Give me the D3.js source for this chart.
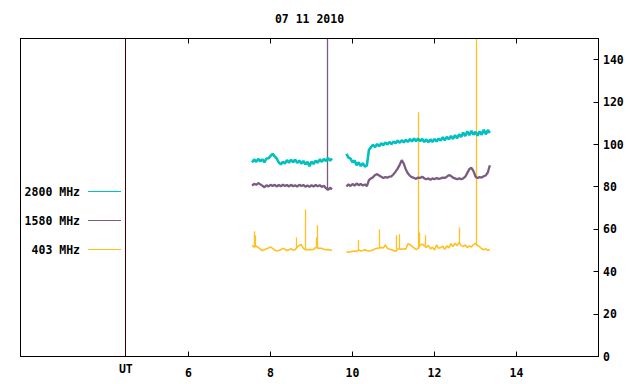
<!DOCTYPE html>
<html>
<head>
<meta charset="utf-8">
<script src="https://cdn.jsdelivr.net/npm/d3@7"></script>
<style>
	body { margin: 0; background: #fff; }
	svg text { font-family: "DejaVu Sans Mono", monospace; font-weight: bold; font-size: 11.5px; fill: #000; }
</style>
</head>
<body>
<svg id="chart" width="640" height="384"></svg>
<script>
const title = "07 11 2010";
const xTicks = [6, 8, 10, 12, 14];
const utHour = 4.47;
const yTicks = [0, 20, 40, 60, 80, 100, 120, 140];
const legendLabels = ["2800 MHz", "1580 MHz", "403 MHz"];
const colors = ["#00c0c0", "#7a5c80", "#ffc020"];
const widths = [2.6, 2.3, 1.6];

// sample grids (hours UT) of the two observing stretches
const timesA = d3.range(0, 40).map((i) => 7.55 + i * 0.05);
const timesB = d3.range(0, 71).map((i) => 9.85 + i * 0.05);

const s2800A = [91.5, 93.0, 91.8, 93.2, 92.0, 93.0, 91.6, 93.4, 93.5, 94.6,
	95.6, 94.4, 93.4, 91.6, 90.6, 91.9, 91.0, 92.6, 91.4, 92.8,
	91.6, 92.9, 91.3, 92.4, 91.0, 92.2, 90.6, 91.8, 89.8, 92.0,
	90.8, 92.4, 91.4, 93.0, 91.8, 93.2, 92.2, 93.6, 92.4, 93.4];
const s2800B = [95.6, 93.8, 93.4, 91.6, 92.4, 90.2, 91.6, 89.8, 91.2, 89.6,
	90.2, 97.4, 98.8, 99.8, 98.8, 100.2, 99.2, 100.6, 99.6, 101.0,
	100.0, 101.2, 100.2, 101.4, 100.6, 101.8, 100.8, 102.0, 101.0, 102.2,
	101.2, 102.6, 101.4, 102.8, 101.6, 102.8, 101.6, 102.6, 101.2, 102.4,
	101.0, 102.4, 101.2, 102.6, 101.4, 102.8, 101.8, 103.4, 102.0, 103.6,
	102.4, 104.0, 102.6, 104.4, 103.0, 104.8, 103.6, 105.6, 104.0, 106.2,
	104.4, 106.4, 104.6, 106.0, 104.2, 106.2, 104.6, 107.0, 104.8, 106.8, 105.4];

const s1580A = [80.6, 81.4, 81.0, 81.8, 81.2, 80.6, 79.8, 80.8, 80.2, 81.0,
	80.4, 81.0, 80.2, 80.9, 80.3, 81.1, 80.4, 80.9, 80.2, 81.0,
	80.3, 80.8, 80.1, 81.0, 80.4, 80.9, 80.1, 80.7, 80.0, 80.8,
	80.2, 80.9, 80.3, 80.8, 80.0, 80.6, 79.4, 78.6, 79.6, 78.8];
const s1580B = [80.2, 81.2, 80.4, 81.4, 80.6, 81.6, 80.8, 81.4, 80.6, 81.2,
	80.4, 83.2, 84.0, 84.6, 85.6, 86.0, 85.4, 84.8, 84.2, 84.6,
	84.4, 84.8, 85.0, 86.0, 87.2, 88.6, 90.4, 92.6, 91.0, 88.2,
	86.4, 85.2, 84.6, 84.2, 83.8, 84.4, 84.2, 84.8, 84.0, 83.6,
	84.0, 83.4, 84.0, 83.6, 84.2, 83.8, 84.0, 84.4, 84.2, 84.8,
	85.6, 85.2, 84.4, 84.0, 83.6, 84.0, 83.6, 84.0, 84.8, 86.6,
	88.4, 89.0, 87.4, 84.8, 84.2, 84.6, 84.4, 85.0, 85.4, 86.8, 90.2];

const s403A = [52.4, 51.6, 52.0, 51.4, 50.6, 49.9, 50.4, 50.8, 51.2, 51.6,
	51.0, 50.2, 49.8, 50.0, 50.4, 51.0, 50.6, 50.0, 50.4, 50.8,
	50.2, 50.4, 51.6, 52.4, 52.8, 51.0, 50.4, 50.4, 50.5, 50.4,
	50.5, 51.4, 51.2, 51.0, 51.0, 50.6, 50.4, 50.4, 50.2, 50.0];
const s403B = [49.4, 49.2, 49.4, 49.6, 49.8, 49.6, 50.2, 49.8, 50.0, 50.4,
	50.0, 49.8, 50.0, 50.2, 50.8, 51.0, 51.2, 51.4, 51.2, 52.6,
	51.0, 50.6, 50.4, 50.0, 49.6, 50.6, 50.8, 50.6, 50.8, 50.6,
	53.2, 52.8, 52.0, 51.2, 50.4, 51.0, 52.4, 53.0, 52.2, 51.4,
	52.4, 50.8, 51.6, 50.2, 52.6, 51.0, 51.4, 52.0, 50.6, 52.2,
	51.2, 53.2, 51.8, 53.4, 52.2, 53.8, 52.4, 51.8, 52.6, 51.4,
	52.2, 51.6, 52.8, 53.4, 52.4, 51.8, 50.8, 50.4, 50.8, 50.0, 50.6];

// short bursts: [hour, peak value]
const spikes1580 = [[9.38, 160]];
const spikes403 = [[7.60, 59.1], [7.63, 57.2], [8.64, 56.1], [8.86, 69.3], [9.12, 56.1],
	[9.15, 61.9], [10.15, 54.9], [10.66, 60.0], [11.08, 57.2], [11.15, 57.7],
	[11.62, 115.2], [11.64, 58.5], [11.77, 57.2], [12.61, 60.8], [13.03, 160]];

const svg = d3.select("#chart");
const mLeft = 20.5, mRight = 598.5, mTop = 38.5, mBottom = 356.5;

const x = d3.scaleLinear().domain([1.9, 16.0]).range([mLeft, mRight]);
const y = d3.scaleLinear().domain([0, 150]).range([mBottom, mTop]);
const px = (v) => Math.round(x(v) - 0.5) + 0.5;

svg.append("defs").append("clipPath").attr("id", "clip")
	.append("rect").attr("x", mLeft).attr("y", mTop)
	.attr("width", mRight - mLeft).attr("height", mBottom - mTop);

svg.append("text").attr("x", (mLeft + mRight) / 2).attr("y", 23)
	.attr("text-anchor", "middle").text(title);

// UT marker line
svg.append("line")
	.attr("x1", px(utHour)).attr("x2", px(utHour))
	.attr("y1", mTop).attr("y2", mBottom)
	.attr("stroke", "#400000").attr("stroke-width", 1);

const plot = svg.append("g").attr("clip-path", "url(#clip)");
const line = d3.line().x((d) => x(d[0])).y((d) => y(d[1]));

const series = [
	{ A: s2800A, B: s2800B, spikes: [] },
	{ A: s1580A, B: s1580B, spikes: spikes1580 },
	{ A: s403A, B: s403B, spikes: spikes403 },
];

// draw in reverse so 2800 sits on top
series.slice().reverse().forEach((s, ri) => {
	const k = series.length - 1 - ri;
	[[timesA, s.A], [timesB, s.B]].forEach(([ts, vs]) => {
		plot.append("path")
			.attr("d", line(ts.map((t, i) => [t, vs[i]])))
			.attr("fill", "none").attr("stroke", colors[k])
			.attr("stroke-width", widths[k]).attr("stroke-linejoin", "bevel");
	});
	s.spikes.forEach(([t, v]) => {
		const useA = t < 9.7;
		const ts = useA ? timesA : timesB, vs = useA ? s.A : s.B;
		const i = d3.minIndex(ts, (d) => Math.abs(d - t));
		plot.append("line")
			.attr("x1", px(t)).attr("x2", px(t))
			.attr("y1", y(vs[i])).attr("y2", y(v))
			.attr("stroke", colors[k]).attr("stroke-width", 1.3);
	});
});

// frame
svg.append("rect").attr("x", mLeft).attr("y", mTop)
	.attr("width", mRight - mLeft).attr("height", mBottom - mTop)
	.attr("fill", "none").attr("stroke", "#000").attr("stroke-width", 1);

// x ticks bottom and top
xTicks.forEach((t) => {
	svg.append("line").attr("x1", px(t)).attr("x2", px(t))
		.attr("y1", mBottom).attr("y2", mBottom - 5).attr("stroke", "#000");
	svg.append("line").attr("x1", px(t)).attr("x2", px(t))
		.attr("y1", mTop).attr("y2", mTop + 5).attr("stroke", "#000");
	svg.append("text").attr("x", x(t)).attr("y", 377)
		.attr("text-anchor", "middle").text(t);
});
svg.append("text").attr("x", x(utHour)).attr("y", 373)
	.attr("text-anchor", "middle").text("UT");

// right y axis
yTicks.forEach((v) => {
	const yy = Math.round(y(v) - 0.5) + 0.5;
	svg.append("line").attr("x1", mRight).attr("x2", mRight - 5)
		.attr("y1", yy).attr("y2", yy).attr("stroke", "#000");
	svg.append("text").attr("x", 603).attr("y", y(v) + 4).text(v);
});

// legend
legendLabels.forEach((lab, i) => {
	const ly = 191.5 + i * 29;
	svg.append("text").attr("x", 80).attr("y", ly + 4)
		.attr("text-anchor", "end").text(lab);
	svg.append("line").attr("x1", 88).attr("x2", 121)
		.attr("y1", ly).attr("y2", ly)
		.attr("stroke", colors[i]).attr("stroke-width", 1);
});
</script>
</body>
</html>
